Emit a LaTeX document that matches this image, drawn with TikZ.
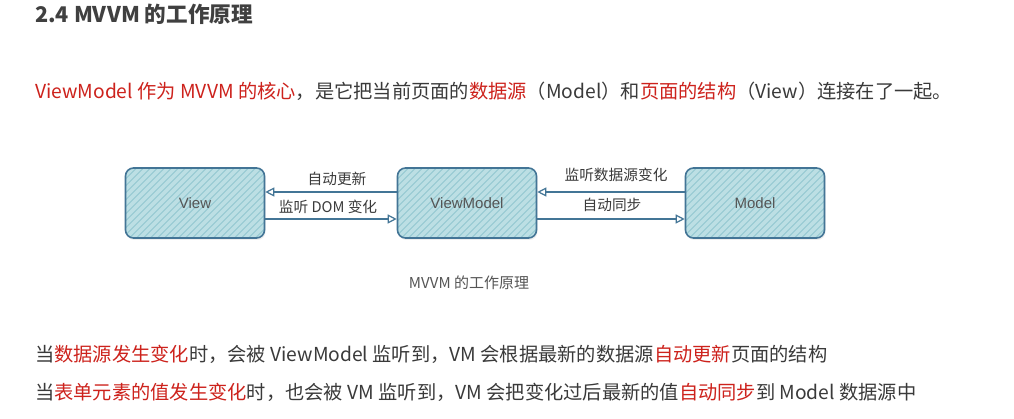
\documentclass[tikz,border=0pt]{standalone}
\usepackage{fontspec}
\setmainfont{Noto Sans CJK SC}
\newfontfamily\arialf{Liberation Sans}
\usetikzlibrary{arrows.meta,shadows}
\definecolor{txt}{HTML}{3A3A3A}
\definecolor{hl}{HTML}{CD221C}
\definecolor{head}{HTML}{404040}
\definecolor{boxfill}{HTML}{BCDFE4}
\definecolor{stripe}{HTML}{93C7D0}
\definecolor{edge}{HTML}{437596}
\definecolor{lbl}{HTML}{555555}
\newcommand{\hlt}[1]{\textcolor{hl}{#1}}
\tikzset{
  bodytext/.style={anchor=west, inner sep=0pt, text=txt, font=\fontsize{19.25}{22}\selectfont},
  sketchbox/.style={draw=edge, line width=1.6pt, rounded corners=8pt, fill=boxfill,
    minimum width=139pt, minimum height=70pt, inner sep=0pt,
    text=lbl, font=\arialf\fontsize{15}{18}\selectfont,
    drop shadow={opacity=0.12, shadow xshift=1pt, shadow yshift=-2pt},
    path picture={\foreach \k in {-80,-73,...,150}
      \draw[stripe, line width=0.9pt] ([xshift=\k pt]path picture bounding box.south west) -- ++(80pt,80pt);}},
  arr/.style={draw=edge, line width=1.4pt, -{Triangle[open, length=9pt, width=9pt, line width=1.2pt]}},
  arrlbl/.style={inner sep=0pt, text=txt, font=\fontsize{14.7}{17}\selectfont},
}
\begin{document}
\begin{tikzpicture}[x=1pt, y=-1pt]
\path[use as bounding box, fill=white] (0,0) rectangle (1014,419);

\node[anchor=west, inner sep=0pt, text=head, font=\bfseries\fontsize{21.6}{25}\selectfont] (title) at (35,14) {2.4 MVVM 的工作原理};

\node[bodytext] (intro) at (35,91) {\hlt{ViewModel 作为 MVVM 的核心}，是它把当前页面的\hlt{数据源}（Model）和\hlt{页面的结构}（View）连接在了一起。};

\node[sketchbox] (view) at (195,203) {View};
\node[sketchbox] (vm) at (467,203) {ViewModel};
\node[sketchbox] (model) at (755,203) {Model};

\draw[arr] ([yshift=11pt]vm.west) -- ([yshift=11pt]view.east);
\draw[arr] ([yshift=-16pt]view.east) -- ([yshift=-16pt]vm.west);
\draw[arr] ([yshift=11pt]model.west) -- ([yshift=11pt]vm.east);
\draw[arr] ([yshift=-16pt]vm.east) -- ([yshift=-16pt]model.west);

\node[arrlbl] (l1) at (337,179) {自动更新};
\node[arrlbl] (l2) at (328,207) {监听 DOM 变化};
\node[arrlbl] (l3) at (616,175) {监听数据源变化};
\node[arrlbl] (l4) at (612,205) {自动同步};

\node[inner sep=0pt, text=lbl, font=\fontsize{15}{17}\selectfont] (cap) at (469,283) {MVVM 的工作原理};

\node[bodytext] (p1) at (35,354) {当\hlt{数据源发生变化}时，会被 ViewModel 监听到，VM 会根据最新的数据源\hlt{自动更新}页面的结构};
\node[bodytext] (p2) at (35,392) {当\hlt{表单元素的值发生变化}时，也会被 VM 监听到，VM 会把变化过后最新的值\hlt{自动同步}到 Model 数据源中};
\end{tikzpicture}
\end{document}
